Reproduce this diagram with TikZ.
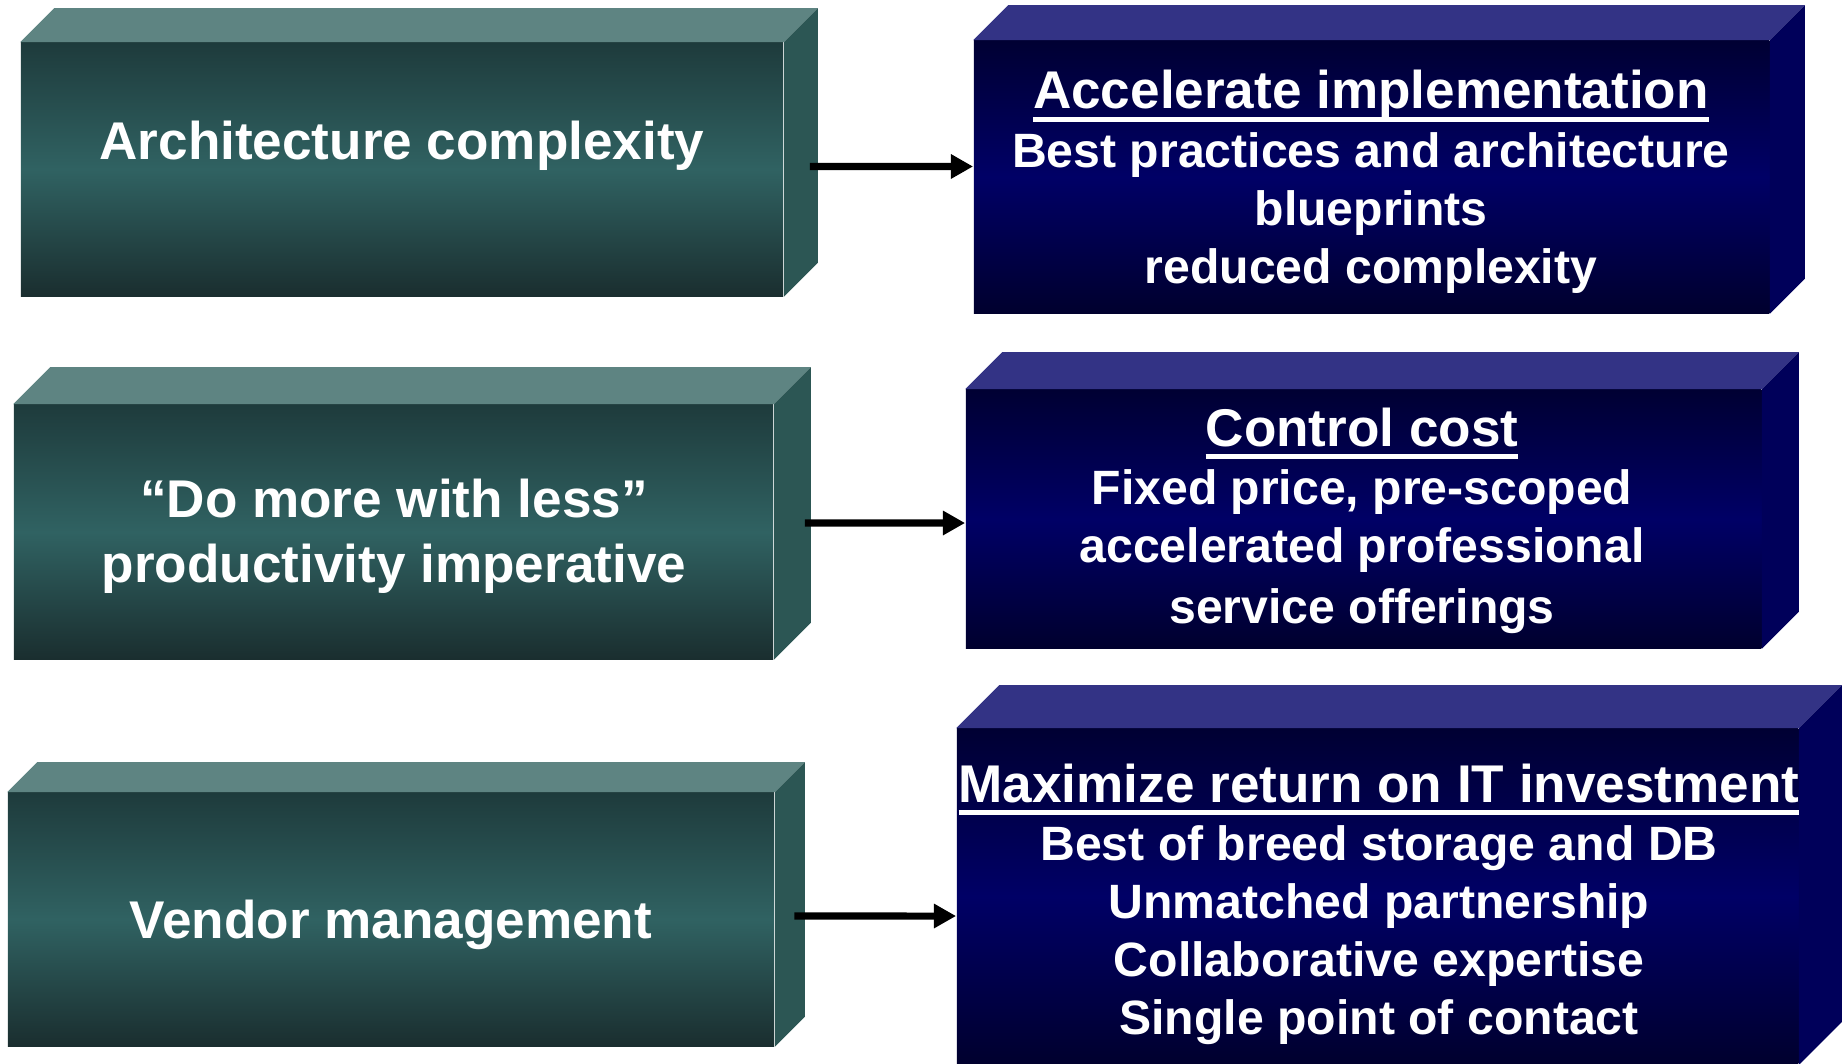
\documentclass[tikz,border=0pt]{standalone}
\usepackage{fontspec}
\setmainfont{Liberation Sans}
\usetikzlibrary{arrows.meta}
\definecolor{tealtop}{HTML}{5E8482}
\definecolor{tealside}{HTML}{2C5654}
\definecolor{tealhi}{HTML}{306262}
\definecolor{tealdk}{HTML}{1E3B3C}
\definecolor{tealbot}{HTML}{1A2E2F}
\definecolor{navytop}{HTML}{333385}
\definecolor{navyside}{HTML}{00005A}
\definecolor{navyhi}{HTML}{000066}
\definecolor{navydk}{HTML}{000033}
\definecolor{navybot}{HTML}{00002E}
\newcommand{\lines}[1]{\begin{tabular}[t]{@{}c@{}}#1\end{tabular}}
\newcommand{\hd}[1]{{\fontsize{15.1}{16.5}\selectfont\setbox0\hbox{#1}\rlap{\rule[-3.8pt]{\wd0}{1.4pt}}\box0}}
\newcommand{\slab}[4]{%
  \fill[#3] (#1.north west) -- ++(#2,-#2) -- ([shift={(#2,-#2)}]#1.north east) -- (#1.north east) -- cycle;
  \fill[#4] (#1.north east) -- ++(#2,-#2) -- ([shift={(#2,-#2)}]#1.south east) -- (#1.south east) -- cycle;}

\begin{document}
\begin{tikzpicture}[x=0.01cm,y=-0.01cm,
  issue/.style={inner sep=0, top color=tealdk, bottom color=tealbot, middle color=tealhi},
  answer/.style={inner sep=0, top color=navydk, bottom color=navybot, middle color=navyhi},
  lefttext/.style={text=white, inner sep=0, anchor=base, font=\fontsize{15.1}{18.5}\selectfont\bfseries},
  righttext/.style={text=white, inner sep=0, anchor=base, font=\fontsize{13.7}{16.5}\selectfont\bfseries},
  link/.style={line width=2pt, -{Triangle[length=6.3pt,width=6.6pt]}}]
\useasboundingbox (0,0) rectangle (1843,1064);
% left column
\node[issue, minimum width=7.62cm, minimum height=2.53cm] (A) at (402,169.5) {};
\node[issue, minimum width=7.59cm, minimum height=2.54cm] (C) at (393.5,532) {};
\node[issue, minimum width=7.66cm, minimum height=2.53cm] (E) at (391,919.5) {};
\slab{A}{34}{tealtop}{tealside}
\slab{C}{37}{tealtop}{tealside}
\slab{E}{30}{tealtop}{tealside}
% right column
\node[answer, minimum width=7.95cm, minimum height=2.72cm] (B) at (1371.5,177) {};
\node[answer, minimum width=7.95cm, minimum height=2.58cm] (D) at (1363.5,519) {};
\node[answer, minimum width=8.41cm, minimum height=3.35cm] (F) at (1377.5,896.5) {};
\slab{B}{35}{navytop}{navyside}
\slab{D}{37}{navytop}{navyside}
\slab{F}{43}{navytop}{navyside}
% texts
\node[lefttext] (tA) at (402,160) {\lines{Architecture complexity}};
\node[lefttext] (tC) at (394,517) {\lines{“Do more with less”\\productivity imperative}};
\node[lefttext] (tE) at (391,938) {\lines{Vendor management}};
\node[righttext] (tB) at (1371,109) {\lines{\hd{Accelerate implementation}\\Best practices and architecture\\blueprints\\reduced complexity}};
\node[righttext] (tD) at (1362,446) {\lines{\hd{Control cost}\\Fixed price, pre-scoped\\accelerated professional\\[0.9pt]service offerings}};
\node[righttext] (tF) at (1379,802) {\lines{\hd{Maximize return on IT investment}\\Best of breed storage and DB\\Unmatched partnership\\Collaborative expertise\\Single point of contact}};
% arrows
\draw[link] ([xshift=2.6mm,yshift=0.3mm]A.east) -- ([yshift=1.05mm]B.west);
\draw[link] ([xshift=3.1mm,yshift=0.9mm]C.east) -- ([yshift=-0.4mm]D.west);
\draw[link] ([xshift=1.95mm,yshift=0.35mm]E.east) -- ([yshift=-1.95mm]F.west);
\end{tikzpicture}
\end{document}
